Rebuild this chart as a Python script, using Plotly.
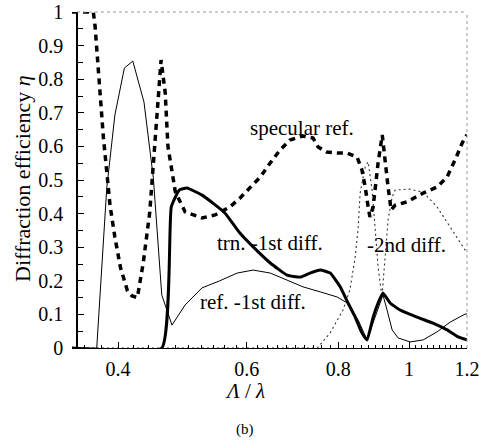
import math
import plotly.graph_objects as go

# Normalised grating period  Λ/λ  and diffraction efficiencies η
sp_x = [0.346, 0.370, 0.372, 0.376, 0.378, 0.382, 0.386, 0.390, 0.396, 0.403, 0.412, 0.418,
        0.425, 0.429, 0.433, 0.442, 0.449, 0.454, 0.458, 0.464, 0.468, 0.479, 0.494, 0.521,
        0.543, 0.560, 0.569, 0.587, 0.606, 0.626, 0.646, 0.666, 0.687, 0.716, 0.739, 0.751,
        0.772, 0.797, 0.823, 0.849, 0.862, 0.871, 0.879, 0.884, 0.893, 0.899, 0.907, 0.919,
        0.927, 0.936, 0.945, 0.957, 0.994, 1.045, 1.092, 1.127, 1.156, 1.182, 1.200]
sp_y = [1.000, 1.000, 0.960, 0.820, 0.750, 0.625, 0.525, 0.425, 0.330, 0.240, 0.170, 0.155,
        0.150, 0.202, 0.253, 0.405, 0.625, 0.745, 0.857, 0.760, 0.600, 0.465, 0.405, 0.387,
        0.396, 0.410, 0.420, 0.446, 0.476, 0.509, 0.551, 0.589, 0.619, 0.631, 0.625, 0.598,
        0.583, 0.580, 0.580, 0.568, 0.530, 0.479, 0.420, 0.390, 0.420, 0.479, 0.551, 0.634,
        0.551, 0.479, 0.411, 0.425, 0.435, 0.461, 0.479, 0.509, 0.560, 0.610, 0.635]

tr_x = [0.346, 0.459, 0.473, 0.485, 0.497, 0.521, 0.543, 0.560, 0.587, 0.612, 0.646, 0.681,
        0.710, 0.732, 0.756, 0.780, 0.805, 0.825, 0.844, 0.862, 0.876, 0.893, 0.907, 0.921,
        0.942, 0.972, 1.025, 1.078, 1.127, 1.167, 1.200]
tr_y = [0.000, 0.000, 0.420, 0.470, 0.476, 0.455, 0.426, 0.402, 0.342, 0.301, 0.253, 0.217,
        0.211, 0.223, 0.232, 0.223, 0.182, 0.134, 0.092, 0.045, 0.024, 0.092, 0.134, 0.164,
        0.134, 0.113, 0.092, 0.074, 0.054, 0.033, 0.024]

rf_x = [0.346, 0.374, 0.386, 0.396, 0.408, 0.419, 0.434, 0.447, 0.459, 0.474, 0.494, 0.521,
        0.551, 0.582, 0.612, 0.646, 0.681, 0.716, 0.756, 0.797, 0.823, 0.852, 0.876, 0.893,
        0.915, 0.921, 0.933, 0.948, 0.966, 1.003, 1.045, 1.092, 1.138, 1.193, 1.200]
rf_y = [0.000, 0.000, 0.476, 0.693, 0.833, 0.854, 0.732, 0.506, 0.158, 0.068, 0.128, 0.179,
        0.200, 0.223, 0.232, 0.223, 0.202, 0.182, 0.167, 0.152, 0.134, 0.083, 0.024, 0.074,
        0.143, 0.158, 0.113, 0.054, 0.030, 0.018, 0.024, 0.048, 0.077, 0.101, 0.101]

d2_x = [0.346, 0.749, 0.780, 0.812, 0.830, 0.844, 0.852, 0.857, 0.862, 0.871, 0.879, 0.890,
        0.899, 0.907, 0.918, 0.936, 0.948, 0.957, 1.000, 1.045, 1.092, 1.138, 1.174, 1.200]
d2_y = [0.000, 0.000, 0.045, 0.113, 0.173, 0.271, 0.360, 0.460, 0.490, 0.539, 0.554, 0.470,
        0.351, 0.241, 0.152, 0.381, 0.449, 0.470, 0.473, 0.464, 0.420, 0.360, 0.313, 0.283]

x_ticks = [0.4, 0.6, 0.8, 1.0, 1.2]
x_tick_text = ["0.4", "0.6", "0.8", "1", "1.2"]
y_ticks = [0, 0.1, 0.2, 0.3, 0.4, 0.5, 0.6, 0.7, 0.8, 0.9, 1.0]
y_tick_text = ["0", "0.1", "0.2", "0.3", "0.4", "0.5", "0.6", "0.7", "0.8", "0.9", "1"]

SERIF = "Liberation Serif"
X_LO, X_HI = 0.346, 1.2
Y_AXIS_POS = 5 / 395  # y axis sits a little right of the plot's left edge

x_minor = [round(0.36 + 0.02 * i, 2) for i in range(43)]
x_minor = [v for v in x_minor if v not in x_ticks and v <= 1.2]
y_minor = [round(0.05 * i, 2) for i in range(21)]

fig = go.Figure()
fig.add_trace(go.Scatter(x=d2_x, y=d2_y, mode="lines",
                         line=dict(color="#333333", width=1.1, dash="2px,3px")))
fig.add_trace(go.Scatter(x=rf_x, y=rf_y, mode="lines",
                         line=dict(color="black", width=1)))
fig.add_trace(go.Scatter(x=tr_x, y=tr_y, mode="lines",
                         line=dict(color="black", width=3, shape="spline", smoothing=0.4)))
fig.add_trace(go.Scatter(x=sp_x, y=sp_y, mode="lines",
                         line=dict(color="black", width=3.5, dash="6px,5px")))

labels = [
    ("specular ref.", 0.714, 0.655),
    ("trn. -1st diff.", 0.6455, 0.3125),
    ("ref. -1st diff.", 0.612, 0.137),
    ("-2nd diff.", 0.9906, 0.3065),
]
annotations = [
    dict(text=t, x=math.log10(x), y=y, xref="x", yref="y", showarrow=False,
         font=dict(family=SERIF, size=21, color="black"),
         xanchor="center", yanchor="middle")
    for t, x, y in labels
]
annotations += [
    dict(text="<i>Λ</i> / <i>λ</i>", x=(245 - 72) / 395, y=(348 - 391) / 336,
         xref="paper", yref="paper", showarrow=False,
         font=dict(family=SERIF, size=21, color="black"), xanchor="center", yanchor="middle"),
    dict(text="(b)", x=(245 - 72) / 395, y=(348 - 429) / 336,
         xref="paper", yref="paper", showarrow=False,
         font=dict(family=SERIF, size=15, color="black"), xanchor="center", yanchor="middle"),
    dict(text="Diffraction efficiency <i>η</i>", x=(22 - 72) / 395, y=(348 - 179) / 336,
         xref="paper", yref="paper", showarrow=False, textangle=-90,
         font=dict(family=SERIF, size=22, color="black"), xanchor="center", yanchor="middle"),
]

shapes = [
    dict(type="line", xref="paper", yref="paper", x0=Y_AXIS_POS, x1=1, y0=1, y1=1,
         line=dict(color="#999999", width=1, dash="dot")),
    dict(type="line", xref="paper", yref="paper", x0=1, x1=1, y0=0, y1=1,
         line=dict(color="#999999", width=1, dash="dot")),
]

fig.update_layout(
    width=479, height=441,
    margin=dict(l=72, r=12, t=12, b=93, autoexpand=False),
    paper_bgcolor="white", plot_bgcolor="white",
    showlegend=False,
    annotations=annotations,
    shapes=shapes,
    xaxis=dict(
        type="log", range=[math.log10(X_LO), math.log10(X_HI)],
        tickmode="array", tickvals=x_ticks, ticktext=x_tick_text,
        ticks="inside", ticklen=6, tickwidth=1, tickcolor="black",
        minor=dict(tickmode="array", tickvals=x_minor, ticks="inside",
                   ticklen=3, tickwidth=1, tickcolor="black"),
        showline=True, linecolor="black", linewidth=1,
        showgrid=False, zeroline=False, automargin=False,
        tickfont=dict(family=SERIF, size=20, color="black"),
        ticklabelstandoff=3, ticklabeloverflow="allow",
    ),
    yaxis=dict(
        range=[0, 1], anchor="free", position=Y_AXIS_POS,
        tickmode="array", tickvals=y_ticks, ticktext=y_tick_text,
        ticks="inside", ticklen=6, tickwidth=1, tickcolor="black",
        minor=dict(tickmode="array", tickvals=y_minor, ticks="inside",
                   ticklen=5, tickwidth=1, tickcolor="black"),
        showline=True, linecolor="black", linewidth=1.5,
        showgrid=False, zeroline=False, automargin=False,
        tickfont=dict(family=SERIF, size=20, color="black"),
        ticklabelstandoff=9, ticklabeloverflow="allow",
    ),
)

fig.write_html("out.html")
